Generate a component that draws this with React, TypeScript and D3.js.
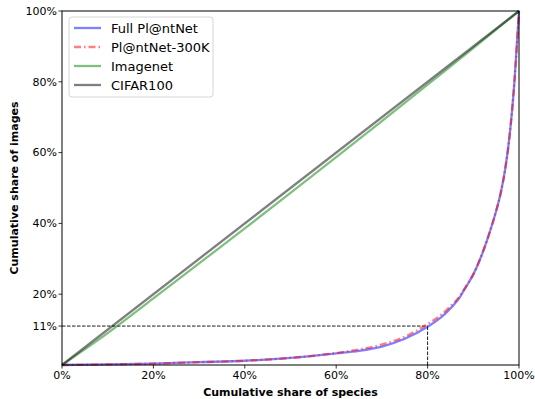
import React from "react";
import * as d3 from "d3";

const xTicks = [0, 20, 40, 60, 80, 100];
const yTicks = [11, 20, 40, 60, 80, 100];

const fullX = [0, 10, 20, 30, 40, 50, 60, 65, 70, 75, 80, 83, 85, 87, 88, 89, 90, 91, 92, 93, 94, 95, 96, 97, 98, 99, 100];
const fullY = [0, 0.15, 0.4, 0.8, 1.2, 2.0, 3.3, 4.0, 5.2, 7.4, 10.8, 13.5, 16, 19, 21.2, 23.3, 25.6, 28.4, 31.6, 35.2, 39.2, 43.5, 48.6, 55.5, 65.5, 80, 100];

const p300X = [0, 10, 20, 30, 40, 50, 60, 65, 70, 75, 80, 83, 85, 87, 88, 89, 90, 91, 92, 93, 94, 95, 96, 97, 98, 99, 100];
const p300Y = [0, 0.15, 0.4, 0.8, 1.2, 2.0, 3.4, 4.4, 5.8, 8.0, 11.6, 14.2, 16.6, 19.4, 21.4, 23.4, 25.6, 28.4, 31.6, 35.2, 39.2, 43.5, 48.6, 55.5, 65.5, 80, 100];

const imagenetX = [0, 10, 20, 30, 40, 50, 60, 70, 80, 90, 100];
const imagenetY = [0, 9.0, 18.8, 28.7, 38.6, 48.6, 58.7, 68.9, 79.2, 89.5, 100];

const cifarX = [0, 100];
const cifarY = [0, 100];

const seriesNames = ["Full Pl@ntNet", "Pl@ntNet-300K", "Imagenet", "CIFAR100"];

export default function App() {
  const W = 535, H = 399;
  const left = 62, right = 519, top = 11, bottom = 365;
  const x = d3.scaleLinear().domain([0, 100]).range([left, right]);
  const y = d3.scaleLinear().domain([0, 100]).range([bottom, top]);
  const mk = (xs: number[], ys: number[]) =>
    d3.line<number>().x((_, i) => x(xs[i])).y((_, i) => y(ys[i])).curve(d3.curveMonotoneX)(xs) || "";

  const series = [
    { xs: fullX, ys: fullY, color: "rgba(0,0,255,0.5)", dash: "" },
    { xs: p300X, ys: p300Y, color: "rgba(255,0,0,0.5)", dash: "7,3,1.5,3" },
    { xs: imagenetX, ys: imagenetY, color: "rgba(0,128,0,0.5)", dash: "" },
    { xs: cifarX, ys: cifarY, color: "rgba(0,0,0,0.5)", dash: "" },
  ];
  const font = "DejaVu Sans, sans-serif";

  return (
    <svg width={W} height={H} style={{ position: "absolute", left: 0, top: 0, background: "#fff" }} fontFamily={font}>
      <rect x={0} y={0} width={W} height={H} fill="#fff" />
      <line x1={x(0)} x2={x(80)} y1={y(11)} y2={y(11)} stroke="#000" strokeWidth={0.9} strokeDasharray="3.5,1.5" />
      <line x1={x(80)} x2={x(80)} y1={y(0)} y2={y(11)} stroke="#000" strokeWidth={0.9} strokeDasharray="3.5,1.5" />
      {series.map((s, i) => (
        <path key={i} d={mk(s.xs, s.ys)} fill="none" stroke={s.color} strokeWidth={2.3} strokeDasharray={s.dash || undefined} />
      ))}
      <rect x={left} y={top} width={right - left} height={bottom - top} fill="none" stroke="#000" strokeWidth={1} />
      {xTicks.map((t) => (
        <g key={"x" + t}>
          <line x1={x(t)} x2={x(t)} y1={bottom} y2={bottom + 3.5} stroke="#000" strokeWidth={0.8} />
          <text x={x(t)} y={bottom + 14} textAnchor="middle" fontSize={11} fill="#000">{t}%</text>
        </g>
      ))}
      {yTicks.map((t) => (
        <g key={"y" + t}>
          <line x1={left - 3.5} x2={left} y1={y(t)} y2={y(t)} stroke="#000" strokeWidth={0.8} />
          <text x={left - 5} y={y(t)} dy="0.35em" textAnchor="end" fontSize={11} fill="#000">{t}%</text>
        </g>
      ))}
      <text x={(left + right) / 2} y={396} textAnchor="middle" fontSize={11} fontWeight="bold">Cumulative share of species</text>
      <text transform={`translate(18,${(top + bottom) / 2}) rotate(-90)`} textAnchor="middle" fontSize={11} fontWeight="bold">Cumulative share of images</text>
      <rect x={69} y={17} width={144} height={80} rx={3} fill="rgba(255,255,255,0.8)" stroke="#ccc" strokeWidth={0.8} />
      {series.map((s, i) => (
        <g key={"l" + i}>
          <line x1={74} x2={101} y1={28 + i * 19} y2={28 + i * 19} stroke={s.color} strokeWidth={2.3} strokeDasharray={s.dash || undefined} />
          <text x={111} y={28 + i * 19} dy="0.35em" fontSize={13} fill="#000">{seriesNames[i]}</text>
        </g>
      ))}
    </svg>
  );
}
